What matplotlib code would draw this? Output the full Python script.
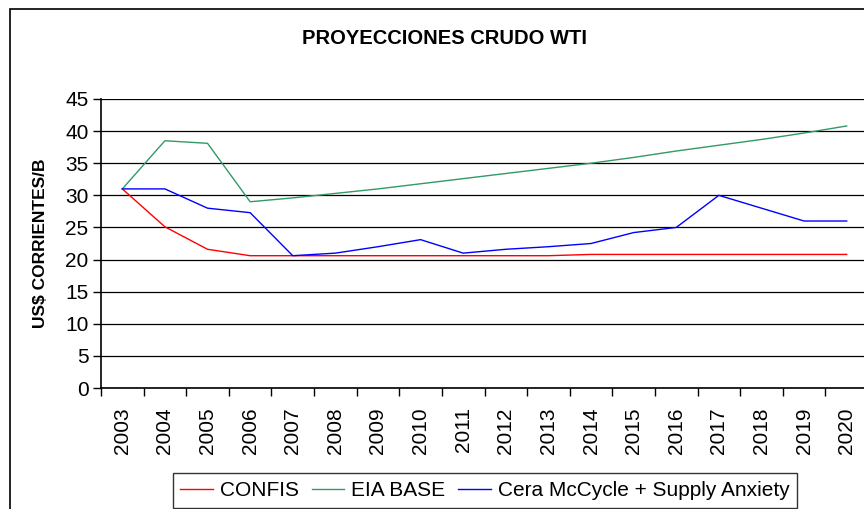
import matplotlib.pyplot as plt
from matplotlib.patches import Rectangle

plt.rcParams['font.family'] = ['Liberation Sans', 'DejaVu Sans']

years = ["2003", "2004", "2005", "2006", "2007", "2008", "2009", "2010", "2011",
         "2012", "2013", "2014", "2015", "2016", "2017", "2018", "2019", "2020"]

confis = [31.0, 25.1, 21.6, 20.6, 20.6, 20.6, 20.6, 20.6, 20.6,
          20.6, 20.6, 20.8, 20.8, 20.8, 20.8, 20.8, 20.8, 20.8]
eia_base = [31.0, 38.5, 38.1, 29.0, 29.6, 30.3, 31.0, 31.8, 32.6,
            33.4, 34.2, 35.0, 35.9, 36.9, 37.8, 38.7, 39.7, 40.8]
cera = [31.0, 31.0, 28.0, 27.3, 20.6, 21.0, 22.0, 23.1, 21.0,
        21.6, 22.0, 22.5, 24.2, 25.0, 30.0, 28.0, 26.0, 26.0]

y_ticks = [0, 5, 10, 15, 20, 25, 30, 35, 40, 45]

fig = plt.figure(figsize=(8.64, 5.09), dpi=100)
ax = fig.add_axes([101/864, 1 - 388/509, 767/864, 289/509])

x = range(len(years))
ax.plot(x, confis, color="#FF0000", lw=1.0, label="CONFIS")
ax.plot(x, eia_base, color="#339966", lw=1.0, label="EIA BASE")
ax.plot(x, cera, color="#0000FF", lw=1.0, label="Cera McCycle + Supply Anxiety")

ax.set_xlim(-0.5, len(years) - 0.5)
ax.set_ylim(0, 45)
ax.set_yticks(y_ticks)
ax.set_yticklabels([str(v) for v in y_ticks], fontsize=15)
ax.set_xticks(list(x))
ax.set_xticklabels(years, rotation=90, fontsize=15)
ax.tick_params(axis="x", length=0, pad=14)
ax.set_xticks([i + 0.5 for i in range(-1, len(years))], minor=True)
ax.tick_params(axis="x", which="minor", length=6, width=1, direction="out")
ax.tick_params(axis="y", length=6, width=1, direction="out", pad=3)

ax.grid(axis="y", color="#000000", lw=0.9)
ax.set_axisbelow(True)
for s in ["top", "right"]:
    ax.spines[s].set_visible(False)
ax.spines["left"].set_linewidth(1.2)
ax.spines["bottom"].set_linewidth(1.2)

ax.set_ylabel("US$ CORRIENTES/B", fontsize=12.5, fontweight="bold")
ax.yaxis.set_label_coords((48 - 101) / 767, 0.5)
fig.text(445/864, 1 - 39/509, "PROYECCIONES CRUDO WTI", ha="center", va="center",
         fontsize=14.5, fontweight="bold")

leg = fig.legend(loc="center", bbox_to_anchor=(485/864, 1 - 490.5/509), ncol=3,
                 fontsize=15, frameon=True, fancybox=False, edgecolor="black",
                 handlelength=1.55, columnspacing=0.62, handletextpad=0.35,
                 borderpad=0.37)
leg.get_frame().set_linewidth(1.0)

# outer chart-area border (cropped at right and bottom)
fig.patches.append(Rectangle((10/864, -0.1), 1.2, 1 - 9/509 + 0.1,
                             transform=fig.transFigure, fill=False,
                             edgecolor="black", lw=1.2))

fig.savefig("out.png", dpi=100)
